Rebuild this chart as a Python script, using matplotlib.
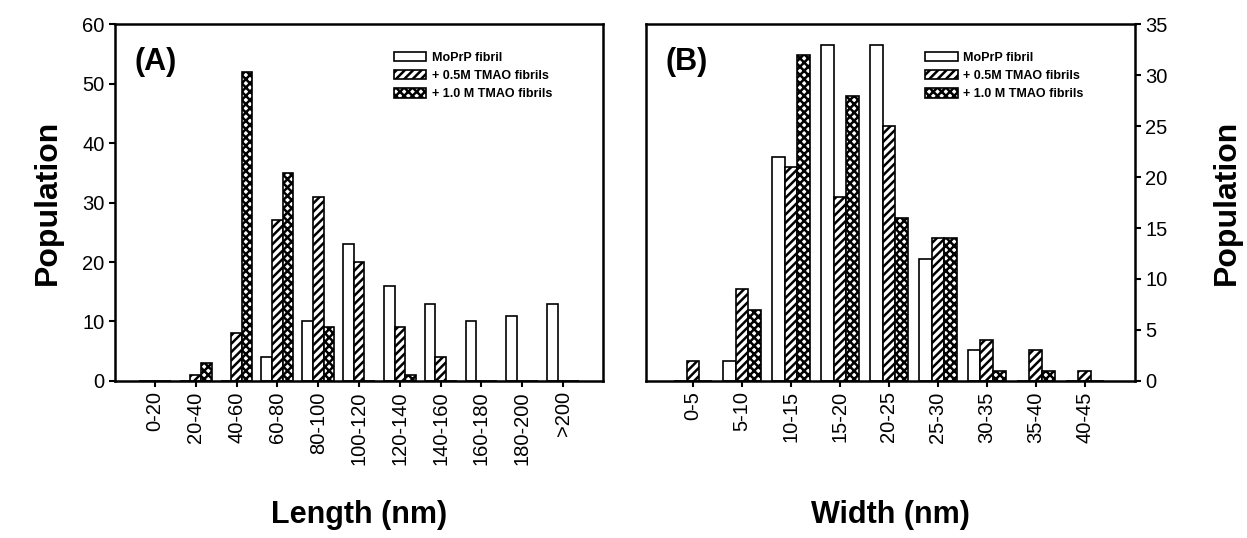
import matplotlib
matplotlib.use("Agg")
import matplotlib.pyplot as plt
import numpy as np

plt.rcParams['font.family'] = ['Liberation Sans', 'DejaVu Sans']
plt.rcParams['hatch.linewidth'] = 1.8

# (A) length distribution
length_bins = ['0-20', '20-40', '40-60', '60-80', '80-100', '100-120',
               '120-140', '140-160', '160-180', '180-200', '>200']
len_moprp = [0, 0, 0, 4, 10, 23, 16, 13, 10, 11, 13]
len_tmao05 = [0, 1, 8, 27, 31, 20, 9, 4, 0, 0, 0]
len_tmao10 = [0, 3, 52, 35, 9, 0, 1, 0, 0, 0, 0]

# (B) width distribution
width_bins = ['0-5', '5-10', '10-15', '15-20', '20-25', '25-30',
              '30-35', '35-40', '40-45']
wid_moprp = [0, 2, 22, 33, 33, 12, 3, 0, 0]
wid_tmao05 = [2, 9, 21, 18, 25, 14, 4, 3, 1]
wid_tmao10 = [0, 7, 32, 28, 16, 14, 1, 1, 0]

series_names = ['MoPrP fibril', '+ 0.5M TMAO fibrils', '+ 1.0 M TMAO fibrils']
hatches = ['', '////', 'xxxx']

fig = plt.figure(figsize=(12.47, 5.38), dpi=100)
ax1 = fig.add_axes([0.0922, 0.292, 0.3914, 0.663])
ax2 = fig.add_axes([0.518, 0.292, 0.392, 0.663])

w = 0.26


def draw_panel(ax, bins, data, tag):
    x = np.arange(len(bins))
    for k, vals in enumerate(data):
        ax.bar(x + (k - 1) * w, vals, width=w, facecolor='white', edgecolor='black',
               linewidth=1.2, hatch=hatches[k], label=series_names[k])
    ax.set_xticks(x)
    ax.set_xticklabels(bins, rotation=90, fontsize=14.5)
    for s in ax.spines.values():
        s.set_linewidth(1.8)
    ax.tick_params(direction='out', length=4, width=1.5, labelsize=14.5, colors='black')
    ax.text(0.04, 0.895, tag, transform=ax.transAxes, fontsize=22, fontweight='bold',
            va='center', ha='left')
    leg = ax.legend(loc='upper left', bbox_to_anchor=(0.548, 0.955), frameon=False,
                    prop={'size': 9, 'weight': 'bold'}, handlelength=2.6,
                    handleheight=0.8, handletextpad=0.45, labelspacing=0.5)
    return leg


draw_panel(ax1, length_bins, [len_moprp, len_tmao05, len_tmao10], '(A)')
ax1.set_xlim(-0.98, 10.98)
ax1.set_ylim(0, 60)
ax1.set_yticks(range(0, 61, 10))
ax1.set_ylabel('Population', fontsize=23, fontweight='bold', labelpad=14)
ax1.set_xlabel('Length (nm)', fontsize=22, fontweight='bold')
ax1.xaxis.set_label_coords(0.5, -0.335)
ax1.xaxis.label.set_va('top')

draw_panel(ax2, width_bins, [wid_moprp, wid_tmao05, wid_tmao10], '(B)')
ax2.set_xlim(-0.96, 9.02)
ax2.set_ylim(0, 35)
ax2.set_yticks(range(0, 36, 5))
ax2.yaxis.tick_right()
ax2.yaxis.set_label_position('right')
ax2.set_ylabel('Population', fontsize=23, fontweight='bold', labelpad=32)
ax2.set_xlabel('Width (nm)', fontsize=22, fontweight='bold')
ax2.xaxis.set_label_coords(0.5, -0.335)
ax2.xaxis.label.set_va('top')

plt.savefig('out.png', dpi=100)
